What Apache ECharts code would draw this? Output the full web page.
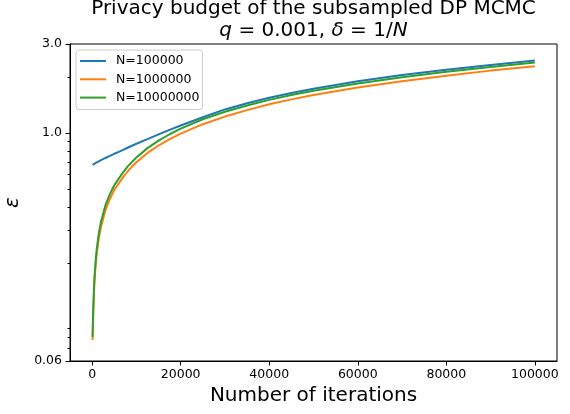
<!DOCTYPE html>
<html><head><meta charset="utf-8">
<script src="https://cdn.jsdelivr.net/npm/echarts@6/dist/echarts.min.js"></script>
<style>html,body{margin:0;padding:0;background:#fff}#c{width:570px;height:414px}</style>
</head><body><div id="c"></div>
<script>
// Data
const iterations = [100, 250, 500, 750, 1000, 1500, 2000, 3000, 4000, 5000, 6000, 7000, 8000, 9000, 10000, 12500, 15000, 17500, 20000, 25000, 30000, 35000, 40000, 45000, 50000, 60000, 70000, 80000, 90000, 100000];
const epsN1e5 = [0.675, 0.678, 0.685, 0.69, 0.695, 0.705, 0.715, 0.735, 0.754, 0.774, 0.793, 0.813, 0.834, 0.855, 0.876, 0.928, 0.983, 1.04, 1.097, 1.215, 1.338, 1.445, 1.545, 1.639, 1.728, 1.893, 2.044, 2.185, 2.318, 2.444];
const epsN1e6 = [0.0777, 0.109, 0.155, 0.19, 0.221, 0.272, 0.314, 0.385, 0.443, 0.494, 0.537, 0.58, 0.622, 0.66, 0.697, 0.782, 0.857, 0.927, 0.993, 1.115, 1.225, 1.327, 1.425, 1.515, 1.600, 1.755, 1.895, 2.03, 2.16, 2.28];
const epsN1e7 = [0.081, 0.115, 0.165, 0.20, 0.235, 0.29, 0.335, 0.41, 0.47, 0.525, 0.57, 0.615, 0.66, 0.70, 0.74, 0.83, 0.91, 0.985, 1.055, 1.185, 1.30, 1.405, 1.505, 1.598, 1.685, 1.845, 1.99, 2.13, 2.26, 2.39];
const seriesNames = ['N=100000', 'N=1000000', 'N=10000000'];
const xTicks = [0, 20000, 40000, 60000, 80000, 100000];
const yMajorTicks = [0.06, 1, 3];
const yMinorTicks = [0.07, 0.08, 0.09, 0.2, 0.3, 0.4, 0.5, 0.6, 0.7, 0.8, 0.9, 2];

const FONT = '"DejaVu Sans", sans-serif';
const colors = ['#1f77b4', '#ff7f0e', '#2ca02c'];
const allSeries = [epsN1e5, epsN1e6, epsN1e7];

const chart = echarts.init(document.getElementById('c'), null, {renderer: 'canvas'});
chart.setOption({
  animation: false,
  backgroundColor: '#fff',
  color: colors,
  textStyle: {fontFamily: FONT},
  grid: {left: 70, top: 44, width: 487, height: 317, show: true, borderColor: '#000', borderWidth: 1,
    backgroundColor: 'transparent', containLabel: false, outerBoundsMode: 'none'},
  graphic: [
    {type: 'text', x: 313.5, y: 9, silent: true, style: {text: 'Privacy budget of the subsampled DP MCMC', fontSize: 20, fontFamily: FONT, fill: '#000', align: 'center', verticalAlign: 'middle'}},
    {type: 'text', x: 313.5, y: 31, silent: true, style: {text: '{i|q} = 0.001, {i|δ} = 1/{i|N}', fontSize: 20, fontFamily: FONT, fill: '#000', align: 'center', verticalAlign: 'middle',
      rich: {i: {fontStyle: 'italic', fontSize: 20, fontFamily: FONT, fill: '#000'}}}}
  ],
  legend: {
    data: seriesNames, orient: 'vertical', left: 76, top: 50, icon: 'rect',
    padding: [4, 3, 5, 4], itemGap: 4.3, itemWidth: 26, itemHeight: 2,
    borderColor: '#cccccc', borderWidth: 1, borderRadius: 3, backgroundColor: 'rgba(255,255,255,0.8)',
    formatter: name => '{t|' + name + '}',
    textStyle: {fontSize: 12.5, color: '#000', fontFamily: FONT, lineHeight: 14,
      rich: {t: {fontSize: 12.5, color: '#000', fontFamily: FONT, lineHeight: 14, padding: [0, 0, 0, 5]}}}
  },
  xAxis: {
    type: 'value', min: -5000, max: 105000,
    axisLine: {show: true, onZero: false, lineStyle: {color: '#000', width: 1}},
    axisTick: {show: true, customValues: xTicks, length: 4.5, lineStyle: {color: '#000', width: 1}},
    axisLabel: {customValues: xTicks, formatter: v => String(Math.round(v)), fontSize: 12.5, color: '#000', fontFamily: FONT, margin: 7},
    splitLine: {show: false},
    name: 'Number of iterations', nameLocation: 'middle', nameGap: 24,
    nameTextStyle: {fontSize: 20, color: '#000', fontFamily: FONT}
  },
  yAxis: [{
    type: 'log', logBase: 10, min: 0.06, max: 3,
    axisLine: {show: true, onZero: false, lineStyle: {color: '#000', width: 1}},
    axisTick: {show: true, customValues: yMajorTicks, length: 4.5, lineStyle: {color: '#000', width: 1}},
    axisLabel: {customValues: yMajorTicks, formatter: v => (v < 0.1 ? v.toFixed(2) : v.toFixed(1)), fontSize: 12.5, color: '#000', fontFamily: FONT, margin: 8},
    splitLine: {show: false},
    name: 'ε', nameLocation: 'middle', nameRotate: 90, nameGap: 42,
    nameTextStyle: {fontSize: 20, color: '#000', fontFamily: FONT, fontStyle: 'italic'}
  }, {
    type: 'log', logBase: 10, min: 0.06, max: 3, position: 'left',
    axisLine: {show: false, onZero: false},
    axisTick: {show: true, customValues: yMinorTicks, length: 2.5, lineStyle: {color: '#000', width: 1}},
    axisLabel: {show: false},
    splitLine: {show: false}
  }],
  series: seriesNames.map((name, i) => ({
    name: name, type: 'line', yAxisIndex: 0, showSymbol: false, symbol: 'none',
    lineStyle: {width: 2, color: colors[i]}, itemStyle: {color: colors[i]},
    data: iterations.map((x, j) => [x, allSeries[i][j]])
  }))
});
</script></body></html>
